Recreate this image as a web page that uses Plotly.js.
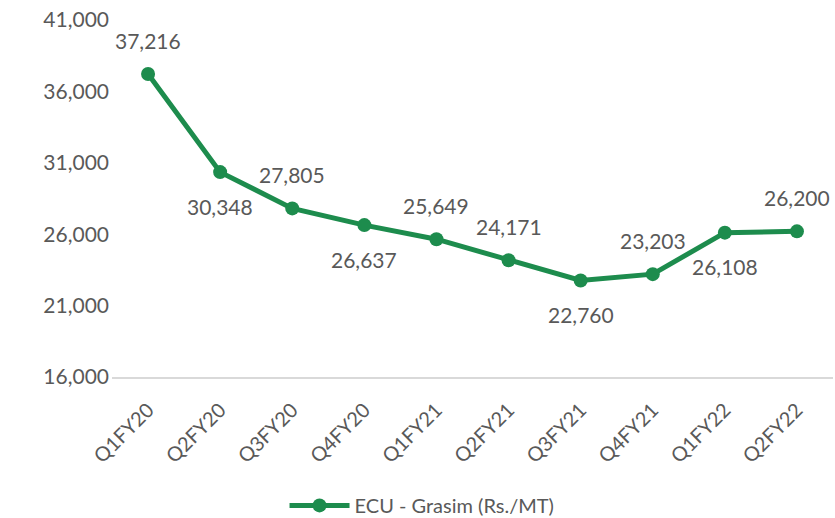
<!DOCTYPE html>
<html><head><meta charset="utf-8">
<script src="https://cdn.plot.ly/plotly-3.0.1.min.js"></script>
<style>body{margin:0;background:#fff}#c{width:835px;height:518px}</style>
</head><body><div id="c"></div>
<script>
const quarters = ["Q1FY20","Q2FY20","Q3FY20","Q4FY20","Q1FY21","Q2FY21","Q3FY21","Q4FY21","Q1FY22","Q2FY22"];
const ecuValues = [37216,30348,27805,26637,25649,24171,22760,23203,26108,26200];
const labelSide = [1,-1,1,-1,1,1,-1,1,-1,1];
const yTicks = [16000,21000,26000,31000,36000,41000];

const green = "#1d8c4d";
const fontFam = "Lato, 'Open Sans', sans-serif";
const textColor = "#595959";

const trace = {
  x: quarters, y: ecuValues, type: "scatter", mode: "lines+markers",
  name: "ECU - Grasim (Rs./MT)",
  line: {color: green, width: 5},
  marker: {color: green, size: 14},
  cliponaxis: false
};

const annotations = quarters.map((q, i) => ({
  x: q, y: ecuValues[i], xref: "x", yref: "y",
  text: ecuValues[i].toLocaleString("en-US"),
  showarrow: false, yshift: labelSide[i] * 34,
  font: {family: fontFam, size: 21, color: textColor}
}));

const layout = {
  width: 835, height: 518,
  margin: {l: 112, r: 2, t: 20, b: 141, autoexpand: false},
  paper_bgcolor: "#fff", plot_bgcolor: "#fff",
  showlegend: true,
  legend: {orientation: "h", x: 0.43, xanchor: "center", y: -0.305, yanchor: "top",
           itemwidth: 60,
           font: {family: fontFam, size: 20, color: textColor}},
  xaxis: {type: "category", range: [-0.5, quarters.length - 0.5], tickangle: -45,
          showgrid: false, showline: true,
          automargin: false, ticklabelstandoff: 12,
          linecolor: "#d9d9d9", linewidth: 1.5, ticks: "",
          tickfont: {family: fontFam, size: 20, color: textColor}},
  yaxis: {range: [16000, 41000], tickvals: yTicks, automargin: false,
          ticktext: yTicks.map(v => v.toLocaleString("en-US")),
          showgrid: false, zeroline: false, showline: false, ticks: "",
          ticklabelstandoff: 2,
          tickfont: {family: fontFam, size: 21, color: textColor}},
  annotations: annotations
};

Plotly.newPlot("c", [trace], layout, {displayModeBar: false, staticPlot: true});
</script></body></html>
